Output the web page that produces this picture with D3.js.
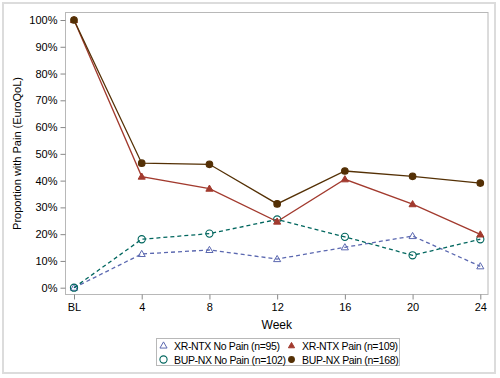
<!DOCTYPE html>
<html>
<head>
<meta charset="utf-8">
<script src="https://cdn.jsdelivr.net/npm/d3@7"></script>
<style>
  body { margin: 0; background: #fff; }
  svg text { font-family: "Liberation Sans", Arial, sans-serif; fill: #000; }
</style>
</head>
<body>
<script>
// weeks on the x axis
const weeks = ["BL", "4", "8", "12", "16", "20", "24"];
const yTicks = [0, 10, 20, 30, 40, 50, 60, 70, 80, 90, 100];

// proportion with pain, in percent
const xrntxNoPain = [0, 12.6, 14.1, 10.7, 15.1, 19.3, 8.0];
const bupnxNoPain = [0, 18.1, 20.2, 25.5, 19.0, 12.1, 18.1];
const xrntxPain = [100, 41.5, 37.0, 24.7, 40.5, 31.2, 19.9];
const bupnxPain = [100, 46.5, 46.1, 31.3, 43.6, 41.6, 39.1];

const series = [
  { name: "XR-NTX No Pain (n=95)", values: xrntxNoPain, color: "#5b68b0", dash: "4,3", sym: "tri", filled: false },
  { name: "BUP-NX No Pain (n=102)", values: bupnxNoPain, color: "#01665e", dash: "4,3", sym: "circle", filled: false },
  { name: "XR-NTX Pain (n=109)", values: xrntxPain, color: "#a23a2e", dash: null, sym: "tri", filled: true },
  { name: "BUP-NX Pain (n=168)", values: bupnxPain, color: "#543005", dash: null, sym: "circle", filled: true }
];

const width = 500, height = 378;
const svg = d3.select("body").append("svg")
  .attr("width", width).attr("height", height);

// outer frame
svg.append("rect")
  .attr("x", 3).attr("y", 3).attr("width", 492).attr("height", 370)
  .attr("fill", "#fff").attr("stroke", "#dcdcdc").attr("stroke-width", 2);

const plot = { left: 65.5, top: 12.5, right: 488, bottom: 294.5 };

const x = d3.scalePoint().domain(weeks).range([74, 480.3]);
const y = d3.scaleLinear().domain([0, 100]).range([287.7, 20]);

// plot frame
svg.append("rect")
  .attr("x", plot.left).attr("y", plot.top)
  .attr("width", plot.right - plot.left).attr("height", plot.bottom - plot.top)
  .attr("fill", "none").attr("stroke", "#b8b8b8").attr("stroke-width", 1);

// axes
const xAxis = svg.append("g")
  .attr("transform", "translate(0," + plot.bottom + ")")
  .call(d3.axisBottom(x).tickSize(5).tickPadding(4));
xAxis.select(".domain").remove();
xAxis.selectAll("line").attr("stroke", "#888");
xAxis.selectAll("text").attr("font-size", 11);

const yAxis = svg.append("g")
  .attr("transform", "translate(" + plot.left + ",0)")
  .call(d3.axisLeft(y).tickValues(yTicks).tickFormat(d => d + "%").tickSize(5).tickPadding(3));
yAxis.select(".domain").remove();
yAxis.selectAll("line").attr("stroke", "#888");
yAxis.selectAll("text").attr("font-size", 11);

svg.append("text")
  .attr("x", (plot.left + plot.right) / 2).attr("y", 329)
  .attr("text-anchor", "middle").attr("font-size", 12)
  .text("Week");

svg.append("text")
  .attr("transform", "translate(21," + ((plot.top + plot.bottom) / 2) + ") rotate(-90)")
  .attr("text-anchor", "middle").attr("font-size", 11)
  .text("Proportion with Pain (EuroQoL)");

const line = d3.line()
  .x((d, i) => x(weeks[i]))
  .y(d => y(d));

function marker(g, s, cx, cy, scale) {
  const fill = s.filled ? s.color : "none";
  if (s.sym === "tri") {
    g.append("path")
      .attr("d", d3.symbol(d3.symbolTriangle, 22 * scale)())
      .attr("transform", "translate(" + cx + "," + (cy + 0.5) + ")")
      .attr("fill", fill).attr("stroke", s.color).attr("stroke-width", 1);
  } else {
    g.append("circle")
      .attr("cx", cx).attr("cy", cy).attr("r", (s.filled ? 3.3 : 3.6) * Math.sqrt(scale))
      .attr("fill", fill).attr("stroke", s.color).attr("stroke-width", 1.1);
  }
}

series.forEach(s => {
  const g = svg.append("g");
  g.append("path")
    .datum(s.values)
    .attr("d", line)
    .attr("fill", "none")
    .attr("stroke", s.color)
    .attr("stroke-width", 1.3)
    .attr("stroke-dasharray", s.dash);
  s.values.forEach((v, i) => marker(g, s, x(weeks[i]), y(v), 1));
});

// legend
svg.append("rect")
  .attr("x", 156.5).attr("y", 338.5).attr("width", 243).attr("height", 27)
  .attr("fill", "none").attr("stroke", "#b8b8b8");

const legendPos = [[163.5, 345.5], [163.5, 359.5], [291.5, 345.5], [291.5, 359.5]];
series.forEach((s, i) => {
  const [lx, ly] = legendPos[i];
  marker(svg, s, lx, ly, s.filled ? 0.75 : 1);
  svg.append("text")
    .attr("x", lx + 10.5).attr("y", ly + 4)
    .attr("font-size", 10.5)
    .attr("letter-spacing", "-0.35")
    .text(s.name);
});
</script>
</body>
</html>
